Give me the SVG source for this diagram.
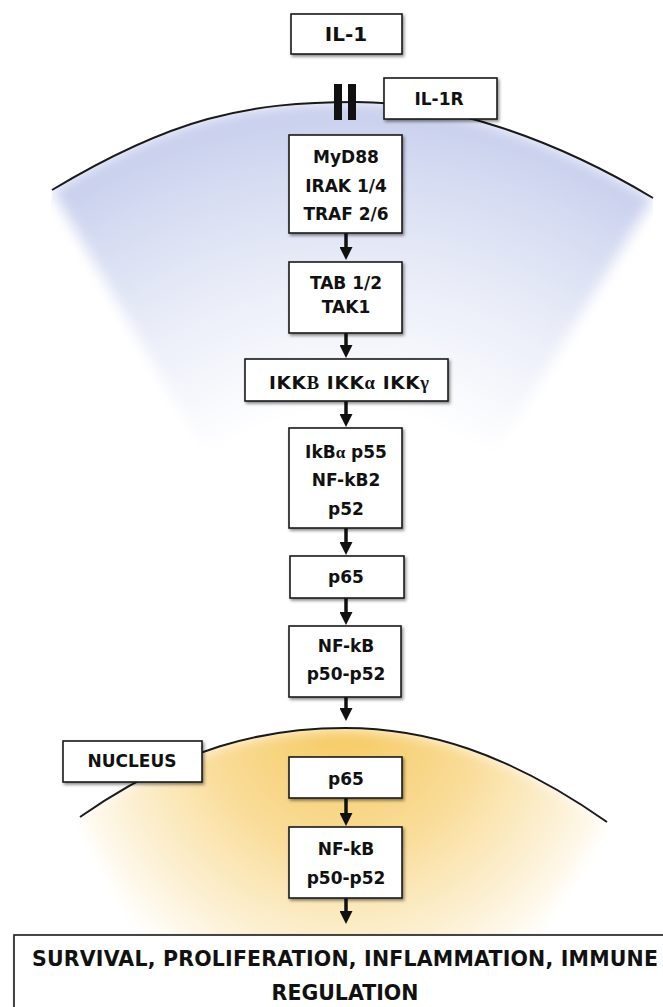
<svg xmlns="http://www.w3.org/2000/svg" width="663" height="1007" viewBox="0 0 663 1007">
<style>
.box{fill:#ffffff;stroke:#1a1a1a;stroke-width:1.6;filter:url(#sh)}
.t{font-family:"DejaVu Sans","Liberation Sans",sans-serif;font-weight:bold;font-size:17px;fill:#111;text-anchor:middle}
.g{font-family:"Liberation Serif","DejaVu Serif",serif;font-weight:bold}
.mem{fill:none;stroke:#1a1a1a;stroke-width:2}
.arr{stroke:#111;stroke-width:3.5;fill:none;marker-end:url(#ah)}
</style>
<defs>
<filter id="sh" x="-10%" y="-10%" width="130%" height="140%">
<feDropShadow dx="1.5" dy="2" stdDeviation="1.5" flood-color="#000" flood-opacity="0.45"/>
</filter>
<filter id="blur" x="-20%" y="-20%" width="140%" height="140%">
<feGaussianBlur stdDeviation="7"/>
</filter>
<radialGradient id="blueG" gradientUnits="userSpaceOnUse" cx="350" cy="640" r="545">
<stop offset="0.42" stop-color="#ffffff"/>
<stop offset="0.65" stop-color="#eceff9"/>
<stop offset="0.85" stop-color="#d7ddf2"/>
<stop offset="1" stop-color="#c6cded"/>
</radialGradient>
<radialGradient id="yelG" gradientUnits="userSpaceOnUse" cx="344" cy="715" r="300">
<stop offset="0" stop-color="#f6c95f"/>
<stop offset="0.45" stop-color="#f9dc98"/>
<stop offset="0.8" stop-color="#fdf2d8"/>
<stop offset="1" stop-color="#ffffff"/>
</radialGradient>
<clipPath id="cellClip">
<path d="M52,190 C172,118 246,102 356,102 C446,102 553,138 653,198 L663,1007 L0,1007 Z"/>
</clipPath>
<clipPath id="nucClip">
<path d="M80,817 C180,747 265,728 345,728 C425,728 507,752 607,822 L663,1007 L0,1007 Z"/>
</clipPath>
<marker id="ah" markerUnits="userSpaceOnUse" viewBox="0 0 13 13" markerWidth="13" markerHeight="13" refX="3" refY="6.5" orient="auto">
<path d="M0,0 L13,6.5 L0,13 Z" fill="#111"/>
</marker>
</defs>
<rect width="663" height="1007" fill="#ffffff"/>

<g id="cell-membrane">
<g clip-path="url(#cellClip)">
<path d="M52,190 C172,118 246,102 356,102 C446,102 553,138 653,198 L490,460 L210,460 Z" fill="url(#blueG)" filter="url(#blur)"/>
</g>
<path class="mem" d="M52,190 C172,118 246,102 356,102 C446,102 553,138 653,198"/>
<rect x="334" y="84" width="8" height="36" fill="#111"/>
<rect x="348" y="84" width="8" height="36" fill="#111"/>
</g>

<g id="nucleus-membrane">
<g clip-path="url(#nucClip)">
<path d="M80,817 C180,747 265,728 345,728 C425,728 507,752 607,822 L525,950 L150,950 Z" fill="url(#yelG)" filter="url(#blur)"/>
</g>
<path class="mem" d="M80,817 C180,747 265,728 345,728 C425,728 507,752 607,822"/>
</g>

<g id="connectors">
<line class="arr" x1="346" y1="233" x2="346" y2="250"/>
<line class="arr" x1="346" y1="333" x2="346" y2="348"/>
<line class="arr" x1="346" y1="401" x2="346" y2="417"/>
<line class="arr" x1="346" y1="528" x2="346" y2="545"/>
<line class="arr" x1="346" y1="598" x2="346" y2="615"/>
<line class="arr" x1="346" y1="697" x2="346" y2="711"/>
<line class="arr" x1="346" y1="798" x2="346" y2="816"/>
<line class="arr" x1="346" y1="898" x2="346" y2="914"/>
</g>

<g id="node-il1">
<rect class="box" x="291" y="14" width="111" height="40"/>
<text class="t" x="346" y="41" style="font-size:20px">IL-1</text>
</g>
<g id="node-il1r">
<rect class="box" x="384" y="78" width="113" height="41"/>
<text class="t" x="439" y="105">IL-1R</text>
</g>
<g id="node-myd88">
<rect class="box" x="289" y="135" width="113" height="98"/>
<text class="t" x="346" y="163">MyD88</text>
<text class="t" x="346" y="192">IRAK 1/4</text>
<text class="t" x="346" y="220">TRAF 2/6</text>
</g>
<g id="node-tab">
<rect class="box" x="289" y="262" width="113" height="71"/>
<text class="t" x="346" y="289">TAB 1/2</text>
<text class="t" x="346" y="313">TAK1</text>
</g>
<g id="node-ikk">
<rect class="box" x="245" y="359" width="203" height="42"/>
<text class="t" x="349" y="389" style="font-size:18.5px" textLength="160" lengthAdjust="spacing">IKK<tspan class="g">B</tspan> IKK<tspan class="g">α</tspan> IKK<tspan class="g">γ</tspan></text>
</g>
<g id="node-ikba">
<rect class="box" x="289" y="428" width="113" height="100"/>
<text class="t" x="346" y="458">IkB<tspan class="g">α</tspan> p55</text>
<text class="t" x="346" y="486">NF-kB2</text>
<text class="t" x="346" y="515">p52</text>
</g>
<g id="node-p65">
<rect class="box" x="290" y="556" width="114" height="42"/>
<text class="t" x="346" y="583">p65</text>
</g>
<g id="node-nfkb">
<rect class="box" x="289" y="626" width="112" height="71"/>
<text class="t" x="346" y="652">NF-kB</text>
<text class="t" x="346" y="680">p50-p52</text>
</g>
<g id="node-nucleus">
<rect class="box" x="63" y="741" width="139" height="41"/>
<text class="t" x="132" y="767">NUCLEUS</text>
</g>
<g id="node-p65-nuc">
<rect class="box" x="289" y="757" width="113" height="41"/>
<text class="t" x="346" y="785">p65</text>
</g>
<g id="node-nfkb-nuc">
<rect class="box" x="289" y="827" width="113" height="71"/>
<text class="t" x="346" y="855">NF-kB</text>
<text class="t" x="346" y="884">p50-p52</text>
</g>
<g id="node-outcome">
<rect class="box" x="14" y="935" width="670" height="95"/>
<text class="t" x="345" y="965.5" style="font-size:20.5px" textLength="626" lengthAdjust="spacing">SURVIVAL, PROLIFERATION, INFLAMMATION, IMMUNE</text>
<text class="t" x="345" y="1000" style="font-size:20.5px">REGULATION</text>
</g>
</svg>
